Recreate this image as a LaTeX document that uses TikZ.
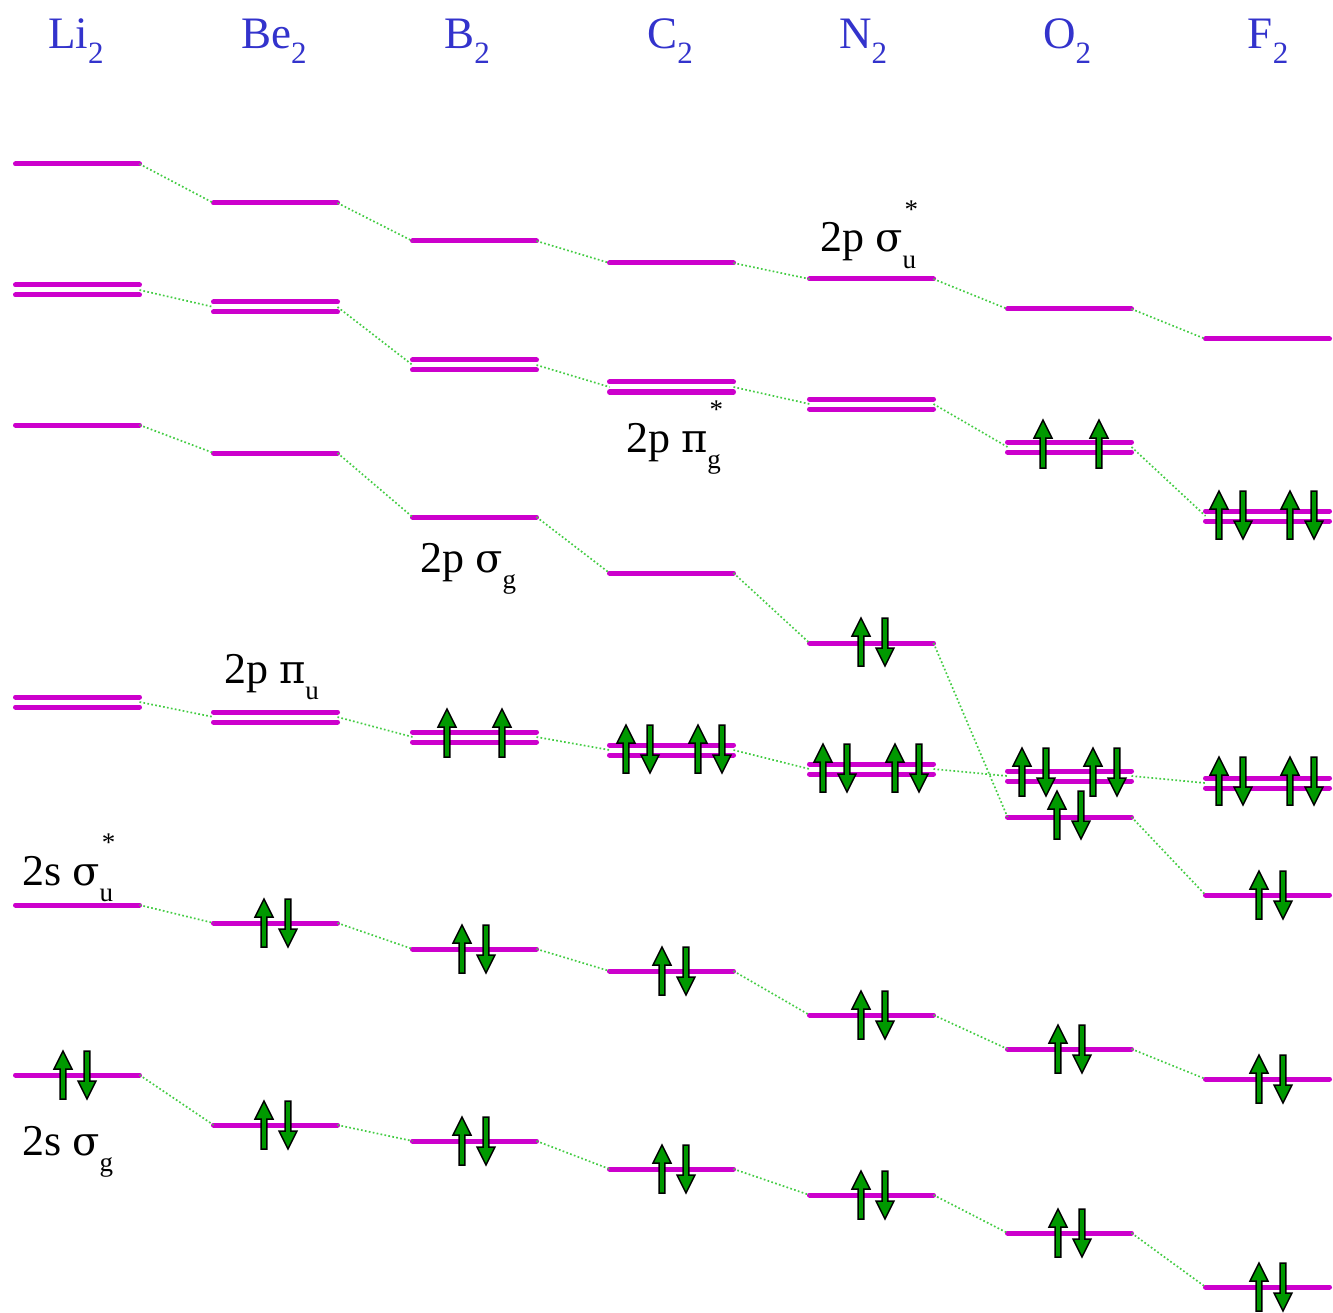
\documentclass[tikz,border=0pt]{standalone}
\usepackage{fontspec}
\setmainfont{Liberation Serif}
\newfontfamily\grkfont{DejaVu Serif}
\definecolor{levcol}{HTML}{CC00CC}
\definecolor{conncol}{HTML}{44CC44}
\definecolor{eleccol}{HTML}{009900}
\definecolor{molblue}{HTML}{3333CC}
\newcommand\molsub[1]{\raisebox{-0.32em}{\fontsize{31}{31}\selectfont #1}}
\newcommand\orbsub[1]{\raisebox{-0.38em}{\fontsize{27}{27}\selectfont #1}}
\newcommand\orbstar{\makebox[0pt][l]{\kern0.05em\raisebox{0.76em}{\fontsize{27}{27}\selectfont *}}}
\newcommand\gk[1]{{\grkfont\fontsize{40}{40}\selectfont #1}}
\newcommand\sglev[3]{%
  \draw[levline] (#2+2.5,#3) -- (#2+126.5,#3);
  \coordinate (#1-l) at (#2+2.5,#3);
  \coordinate (#1-r) at (#2+126.5,#3);}
\newcommand\dblev[3]{%
  \draw[levline] (#2+2.5,#3-5) -- (#2+126.5,#3-5);
  \draw[levline] (#2+2.5,#3+5) -- (#2+126.5,#3+5);
  \coordinate (#1-l) at (#2+2.5,#3);
  \coordinate (#1-r) at (#2+126.5,#3);}
\newcommand\epair[2]{\pic at (#1-12,#2) {eup}; \pic at (#1+12,#2) {edn};}
\tikzset{
  levline/.style={draw=levcol, line width=5pt, line cap=round},
  connline/.style={draw=conncol, line width=1.7pt, dash pattern=on 1.7pt off 2.3pt},
  spin/.style={fill=eleccol, draw=black, line width=1.5pt, line join=miter},
  pics/eup/.style={code={\draw[spin] (-2.8,24)--(-2.8,-6)--(-9,-6)--(0,-24)--(9,-6)--(2.8,-6)--(2.8,24)--cycle;}},
  pics/edn/.style={code={\draw[spin] (-2.8,-24)--(-2.8,6)--(-9,6)--(0,24)--(9,6)--(2.8,6)--(2.8,-24)--cycle;}},
  molname/.style={text=molblue, font=\fontsize{45}{45}\selectfont, anchor=base, inner sep=0pt},
  orblabel/.style={font=\fontsize{44}{44}\selectfont, anchor=base west, inner sep=0pt},
}
\begin{document}
\begin{tikzpicture}[x=1pt,y=-1pt]
\useasboundingbox (0,0) rectangle (1333,1313);
% molecule names
\node[molname] (nLi) at (76,49) {Li\molsub{2}};
\node[molname] (nBe) at (274,49) {Be\molsub{2}};
\node[molname] (nB) at (467,49) {B\molsub{2}};
\node[molname] (nC) at (670,49) {C\molsub{2}};
\node[molname] (nN) at (863,49) {N\molsub{2}};
\node[molname] (nO) at (1067,49) {O\molsub{2}};
\node[molname] (nF) at (1268,49) {F\molsub{2}};
% levels: name, x-left, y
\foreach \m/\xl/\a/\b/\c/\d/\e/\f in {
  Li/13/164/290/425/702/905/1075,
  Be/211/203/307/453/717/923/1125,
  B/410/241/365/517/737/949/1141,
  C/607/263/387/573/750/971/1169,
  N/807/279/404/643/769/1015/1195,
  O/1005/309/447/817/776/1049/1233,
  F/1203/339/516/895/783/1079/1287}{
  \sglev{\m-psu}{\xl}{\a}
  \dblev{\m-pig}{\xl}{\b}
  \sglev{\m-psg}{\xl}{\c}
  \dblev{\m-piu}{\xl}{\d}
  \sglev{\m-ssu}{\xl}{\e}
  \sglev{\m-ssg}{\xl}{\f}
}
% correlation connectors
\foreach \p/\q in {Li/Be,Be/B,B/C,C/N,N/O,O/F}{
  \foreach \t in {psu,pig,psg,piu,ssu,ssg}{
    \draw[connline] (\p-\t-r) -- (\q-\t-l);
  }
}
% electrons
\epair{75}{1075}
\epair{276}{1125} \epair{276}{923}
\epair{474}{1141} \epair{474}{949}
\pic at (447,733) {eup}; \pic at (502,733) {eup};
\epair{674}{1169} \epair{674}{971}
\epair{638}{749} \epair{710}{749}
\epair{873}{1195} \epair{873}{1015}
\epair{835}{768} \epair{907}{768}
\epair{873}{642}
\epair{1070}{1233} \epair{1070}{1049}
\epair{1069}{815}
\epair{1034}{772} \epair{1105}{772}
\pic at (1043,444) {eup}; \pic at (1099,444) {eup};
\epair{1271}{1287} \epair{1271}{1079} \epair{1271}{895}
\epair{1231}{781} \epair{1302}{781}
\epair{1231}{515} \epair{1302}{515}
% orbital labels
\node[orblabel] (l1) at (22,1155) {2s \gk{σ}\orbsub{g}};
\node[orblabel] (l2) at (22,885) {2s \gk{σ}\orbstar\orbsub{u}};
\node[orblabel] (l3) at (224,683) {2p \gk{π}\orbsub{u}};
\node[orblabel] (l4) at (420,572) {2p \gk{σ}\orbsub{g}};
\node[orblabel] (l5) at (626,452) {2p \gk{π}\orbstar\orbsub{g}};
\node[orblabel] (l6) at (820,252) {2p \gk{σ}\orbstar\orbsub{u}};
\end{tikzpicture}
\end{document}
